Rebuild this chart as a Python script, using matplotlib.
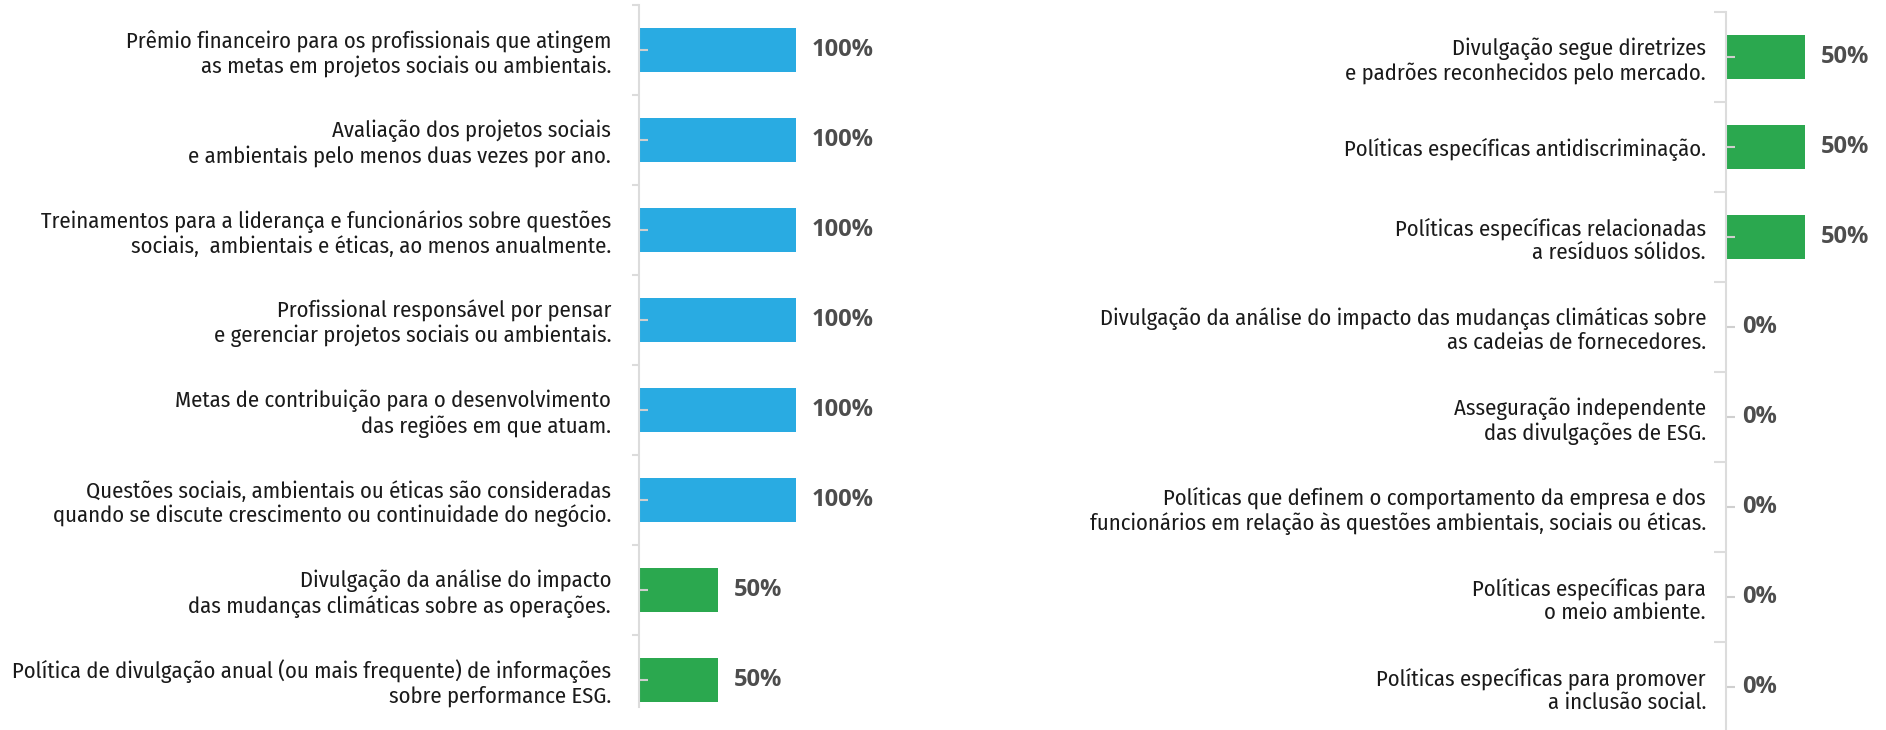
import matplotlib
matplotlib.use("Agg")
import numpy as np
import matplotlib.pyplot as plt

# DATA
left_labels = [
    "Prêmio financeiro para os profissionais que atingem\nas metas em projetos sociais ou ambientais.",
    "Avaliação dos projetos sociais\ne ambientais pelo menos duas vezes por ano.",
    "Treinamentos para a liderança e funcionários sobre questões\nsociais,  ambientais e éticas, ao menos anualmente.",
    "Profissional responsável por pensar\ne gerenciar projetos sociais ou ambientais.",
    "Metas de contribuição para o desenvolvimento\ndas regiões em que atuam.",
    "Questões sociais, ambientais ou éticas são consideradas\nquando se discute crescimento ou continuidade do negócio.",
    "Divulgação da análise do impacto\ndas mudanças climáticas sobre as operações.",
    "Política de divulgação anual (ou mais frequente) de informações\nsobre performance ESG.",
]
left_values = [100, 100, 100, 100, 100, 100, 50, 50]

right_labels = [
    "Divulgação segue diretrizes\ne padrões reconhecidos pelo mercado.",
    "Políticas específicas antidiscriminação.",
    "Políticas específicas relacionadas\na resíduos sólidos.",
    "Divulgação da análise do impacto das mudanças climáticas sobre\nas cadeias de fornecedores.",
    "Asseguração independente\ndas divulgações de ESG.",
    "Políticas que definem o comportamento da empresa e dos\nfuncionários em relação às questões ambientais, sociais ou éticas.",
    "Políticas específicas para\no meio ambiente.",
    "Políticas específicas para promover\na inclusão social.",
]
right_values = [50, 50, 50, 0, 0, 0, 0, 0]

#GLOBALS (styles)
W, H, DPI = 1886, 730, 100
BLUE = "#29abe2"
GREEN = "#2ba84f"
AXIS_GRAY = "#dcdcdc"
LABEL_FONT = ["Fira Sans Condensed", "DejaVu Sans"]
VALUE_FONT = ["Open Sans", "DejaVu Sans"]
PX_PER_100 = 157.0  # bar length of 100% in pixels


def barColor(v):
    return BLUE if v >= 100 else GREEN


def drawPanel(fig, labels, values, spine_x, top_px, bottom_px, first_center_px, major_len, label_gap):
    # axes placed in pixels, one category = 90 px
    ax_w = 260
    ax = fig.add_axes([spine_x / W, 1 - bottom_px / H, ax_w / W, (bottom_px - top_px) / H])
    step = 90.0
    y_top = (top_px - first_center_px) / step
    y_bot = (bottom_px - first_center_px) / step
    ax.set_ylim(y_bot, y_top)
    ax.set_xlim(0, 100 * ax_w / PX_PER_100)

    pos = np.arange(len(values))
    ax.barh(pos, values, height=0.49, color=[barColor(v) for v in values], zorder=1)
    for p, v in zip(pos, values):
        ax.annotate("%d%%" % v, (v, p), xytext=(11.5, 0), textcoords="offset points",
                    va="center", ha="left", fontsize=17, fontweight="bold",
                    color="#4d4d4d", family=VALUE_FONT)

    for s in ("top", "right", "bottom"):
        ax.spines[s].set_visible(False)
    ax.spines["left"].set_color(AXIS_GRAY)
    ax.spines["left"].set_linewidth(1.5)
    ax.set_xticks([])

    bounds = [b for b in np.arange(-0.5, len(values) + 0.5) if y_top <= b <= y_bot]
    ax.set_yticks(bounds, [""] * len(bounds))
    ax.set_yticks(pos, labels, minor=True)
    ax.tick_params(axis="y", which="major", direction="out", length=major_len * 0.72,
                   width=1.5, color=AXIS_GRAY)
    ax.tick_params(axis="y", which="minor", direction="in", length=6.5, width=1.5,
                   color="#cfcfcf", pad=label_gap * 0.72, labelsize=16.3, labelcolor="#1a1a1a")
    for t in ax.get_yticklabels(minor=True):
        t.set_family(LABEL_FONT)
        t.set_fontweight("normal")
        t.set_linespacing(1.15)
    ax.set_facecolor("none")
    return ax


def main():
    fig = plt.figure(figsize=(W / DPI, H / DPI), dpi=DPI)
    drawPanel(fig, left_labels, left_values, spine_x=639, top_px=5, bottom_px=707,
              first_center_px=50, major_len=7, label_gap=28)
    drawPanel(fig, right_labels, right_values, spine_x=1726, top_px=12, bottom_px=730,
              first_center_px=57, major_len=12, label_gap=20)
    fig.savefig("out.png", dpi=DPI)


if __name__ == "__main__":
    main()
